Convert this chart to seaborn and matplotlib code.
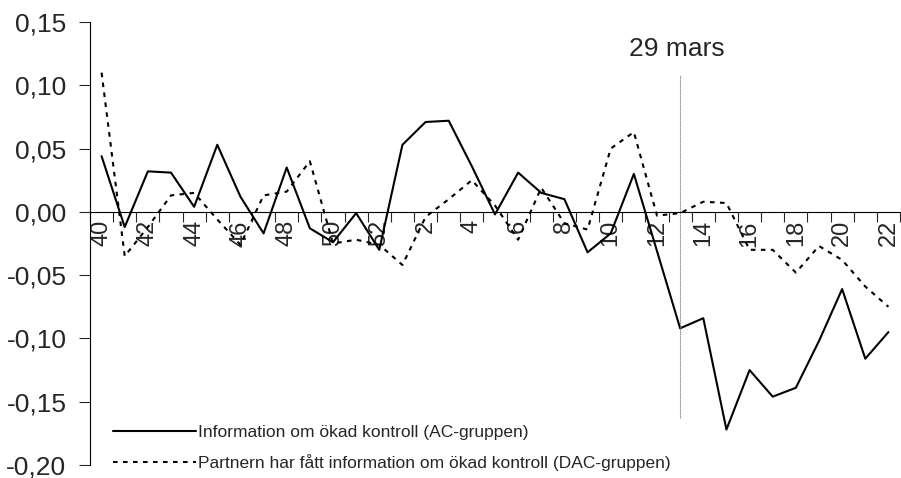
import numpy as np
import pandas as pd
import matplotlib
matplotlib.use('Agg')
from matplotlib import pyplot as plt
import seaborn as sns

# week numbers, autumn 40-52 then spring 1-22
weeks = [str(w) for w in range(40, 53)] + [str(w) for w in range(1, 23)]

ac_vals = [0.044, -0.012, 0.032, 0.031, 0.004, 0.053, 0.012, -0.017, 0.035,
           -0.013, -0.024, -0.001, -0.030,
           0.053, 0.071, 0.072, 0.036, -0.002, 0.031, 0.015, 0.010, -0.032,
           -0.017, 0.030, -0.031, -0.092, -0.084, -0.172, -0.125, -0.146,
           -0.139, -0.102, -0.061, -0.116, -0.095]
dac_vals = [0.110, -0.035, -0.012, 0.013, 0.015, -0.006, -0.026, 0.013, 0.016,
            0.040, -0.025, -0.022, -0.026,
            -0.042, -0.004, 0.010, 0.025, 0.005, -0.022, 0.019, -0.009, -0.014,
            0.050, 0.063, -0.003, -0.001, 0.008, 0.007, -0.030, -0.030,
            -0.048, -0.027, -0.038, -0.059, -0.075]

ac_label = 'Information om ökad kontroll (AC-gruppen)'
dac_label = 'Partnern har fått information om ökad kontroll (DAC-gruppen)'

yticks = [-0.20, -0.15, -0.10, -0.05, 0.00, 0.05, 0.10, 0.15]
ytick_labels = ['-0,20', '-0,15', '-0,10', '-0,05', '0,00', '0,05', '0,10', '0,15']

marker_week = '13'
marker_text = '29 mars'
marker_span = (-0.163, 0.108)

df = pd.DataFrame({
    'pos': list(range(len(weeks))) * 2,
    'value': ac_vals + dac_vals,
    'group': [ac_label] * len(weeks) + [dac_label] * len(weeks),
})

sns.set_style('white')
plt.rcParams['font.family'] = ['Liberation Sans', 'DejaVu Sans']

fig = plt.figure(figsize=(9.01, 4.78), dpi=100)
ax = fig.add_axes([90 / 901, 13 / 478, 810 / 901, 443 / 478])

sns.lineplot(data=df, x='pos', y='value', style='group',
             dashes={ac_label: '', dac_label: (2.2, 2.6)},
             color='black', linewidth=1.5, ax=ax, legend=False)

# spines first: moving a spine resets the tick objects
for side in ['top', 'right']:
    ax.spines[side].set_visible(False)
ax.spines['bottom'].set_position(('data', 0))
for s in ['left', 'bottom']:
    ax.spines[s].set_linewidth(0.8)
    ax.spines[s].set_color('black')

# marker for the 29 March event
mx = weeks.index(marker_week)
ax.vlines(mx, marker_span[0], marker_span[1], color='#808080',
          linewidth=0.8, linestyles=(0, (1, 0.6)))
ax.text(mx - 0.15, 0.129, marker_text, ha='center', va='center', fontsize=19)

ax.set_xlim(-0.5, len(weeks) - 0.5)
ax.set_ylim(-0.20, 0.15)
ax.set_yticks(yticks)
ax.set_yticklabels(ytick_labels, fontsize=19)
ax.tick_params(axis='y', direction='out', length=8, width=0.8, pad=9, left=True)

ax.set_xticks(range(0, len(weeks), 2))
ax.set_xticklabels(weeks[::2], rotation=90, fontsize=17)
ax.set_xticks(np.arange(-0.5, len(weeks), 1), minor=True)
ax.tick_params(axis='x', which='major', length=0, pad=6, bottom=True)
ax.tick_params(axis='x', which='minor', direction='out', length=7,
               width=0.8, bottom=True)
ax.set_xlabel('')
ax.set_ylabel('')

h_ac, = ax.plot([], [], color='black', linewidth=1.5)
h_dac, = ax.plot([], [], color='black', linewidth=1.5, dashes=(2.2, 2.6))
ax.legend([h_ac, h_dac], [ac_label, dac_label], frameon=False,
          loc='upper left', bbox_to_anchor=(113 / 901, 1 - 425 / 478),
          bbox_transform=fig.transFigure, borderpad=0, borderaxespad=0,
          handlelength=4.8, handletextpad=0.12, labelspacing=0.8,
          prop={'size': 12.5})

fig.savefig('out.png', dpi=100)
